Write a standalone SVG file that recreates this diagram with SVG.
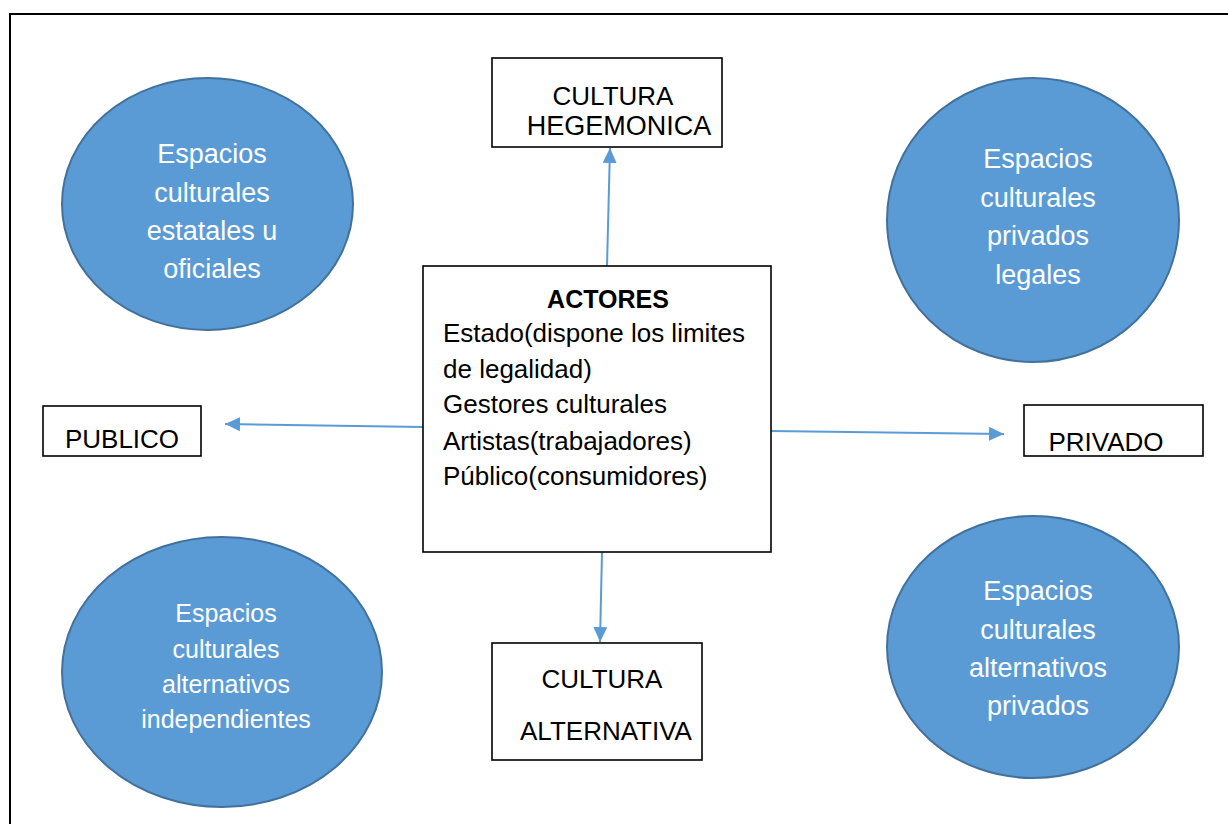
<svg xmlns="http://www.w3.org/2000/svg" width="1228" height="824" viewBox="0 0 1228 824">
<style>
.frame{fill:none;stroke:#000;stroke-width:2}
.box{fill:#fff;stroke:#000;stroke-width:1.6}
.ell{fill:#5B9BD5;stroke:#41719C;stroke-width:2}
.t{font-family:"Liberation Sans",Arial,sans-serif;fill:#000;font-size:26px}
.w{font-family:"Liberation Sans",Arial,sans-serif;fill:#fff;font-size:27px;text-anchor:middle}
.c{stroke:#5B9BD5;stroke-width:2;fill:none;marker-end:url(#ah)}
</style>
<defs>
<marker id="ah" markerUnits="userSpaceOnUse" markerWidth="16" markerHeight="14" refX="15" refY="7" orient="auto">
<path d="M0,0 L15,7 L0,14 Z" fill="#5B9BD5"/>
</marker>
</defs>
<rect width="1228" height="824" fill="#fff"/>
<rect class="frame" x="10" y="14" width="1240" height="840"/>
<g id="connectors">
<line class="c" x1="607" y1="266" x2="610" y2="148"/>
<line class="c" x1="602" y1="552" x2="600" y2="642"/>
<line class="c" x1="423" y1="427" x2="225" y2="424"/>
<line class="c" x1="771" y1="431" x2="1004" y2="434"/>
</g>
<g id="estatales">
<ellipse class="ell" cx="207.5" cy="204" rx="145.5" ry="126"/>
<text class="w" x="212" y="163">Espacios</text>
<text class="w" x="212" y="202">culturales</text>
<text class="w" x="212" y="240">estatales u</text>
<text class="w" x="212" y="278">oficiales</text>
</g>
<g id="privados-legales">
<ellipse class="ell" cx="1033" cy="220" rx="146" ry="142"/>
<text class="w" x="1038" y="168">Espacios</text>
<text class="w" x="1038" y="207">culturales</text>
<text class="w" x="1038" y="245">privados</text>
<text class="w" x="1038" y="284">legales</text>
</g>
<g id="alternativos-independientes">
<ellipse class="ell" cx="222" cy="672" rx="160" ry="135"/>
<text class="w" x="226" y="622" style="font-size:25px">Espacios</text>
<text class="w" x="226" y="658" style="font-size:25px">culturales</text>
<text class="w" x="226" y="693" style="font-size:25px">alternativos</text>
<text class="w" x="226" y="728" style="font-size:25px">independientes</text>
</g>
<g id="alternativos-privados">
<ellipse class="ell" cx="1033" cy="647" rx="146" ry="131"/>
<text class="w" x="1038" y="600">Espacios</text>
<text class="w" x="1038" y="639">culturales</text>
<text class="w" x="1038" y="677">alternativos</text>
<text class="w" x="1038" y="715">privados</text>
</g>
<g id="hegemonica">
<rect class="box" x="492" y="58" width="230" height="89"/>
<text class="t" x="613" y="105" text-anchor="middle">CULTURA</text>
<text class="t" x="619" y="135" text-anchor="middle" style="font-size:27px">HEGEMONICA</text>
</g>
<g id="alternativa">
<rect class="box" x="492" y="643" width="210" height="117"/>
<text class="t" x="602" y="688" text-anchor="middle">CULTURA</text>
<text class="t" x="606" y="740" text-anchor="middle">ALTERNATIVA</text>
</g>
<g id="publico">
<rect class="box" x="43" y="406" width="158" height="50"/>
<text class="t" x="122" y="448" text-anchor="middle">PUBLICO</text>
</g>
<g id="privado">
<rect class="box" x="1024" y="405" width="179" height="51"/>
<text class="t" x="1106" y="451" text-anchor="middle">PRIVADO</text>
</g>
<g id="actores">
<rect class="box" x="423" y="266" width="348" height="286"/>
<text class="t" x="608" y="308" text-anchor="middle" font-weight="bold" style="font-size:25px">ACTORES</text>
<text class="t" x="443" y="342">Estado(dispone los limites</text>
<text class="t" x="443" y="378">de legalidad)</text>
<text class="t" x="443" y="413">Gestores culturales</text>
<text class="t" x="443" y="450">Artistas(trabajadores)</text>
<text class="t" x="443" y="485">Público(consumidores)</text>
</g>
</svg>
